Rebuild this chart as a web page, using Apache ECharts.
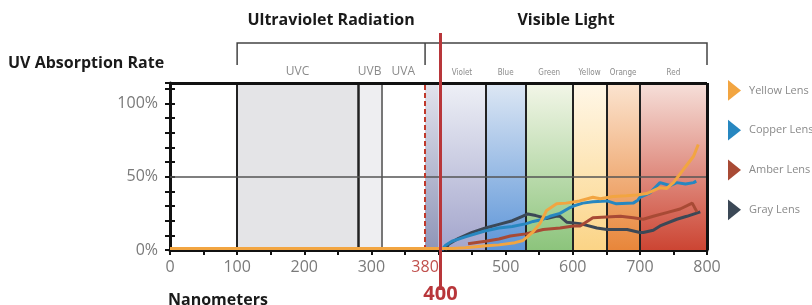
<!DOCTYPE html>
<html>
<head>
<meta charset="utf-8">
<script src="https://cdn.jsdelivr.net/npm/echarts@6/dist/echarts.min.js"></script>
<style>
  html, body { margin: 0; padding: 0; background: #fff; }
  #chart { width: 812px; height: 305px; }
</style>
</head>
<body>
<div id="chart"></div>
<script>
// wavelength in nm, absorption in %
var yellowLens = [[0,1],[400,1],[420,1],[440,1.5],[467,2.7],[490,3.5],[514,5],[526,6.5],[540,12],[551,18],[561,27],[576,31.5],[590,32],[610,33.5],[630,36],[641,35],[660,36.5],[680,37],[695,37.5],[710,38.5],[730,42.5],[740,42],[750,46],[760,52],[770,58],[780,64],[787,72]];
var copperLens = [[405,0],[410,3],[420,6],[440,9],[469,13],[490,15],[510,16],[531,18],[541,19.5],[556,21],[566,23],[581,25],[596,29],[601,30],[615,32],[630,33],[651,33.5],[665,31.5],[690,32],[697,34],[700,36],[715,39],[730,46],[745,44],[755,46],[768,45],[780,46],[784,47]];
var amberLens = [[444,4.3],[470,6],[490,7.5],[507,9.6],[530,11],[556,14],[581,15],[601,16.4],[611,16.4],[630,22],[650,22.5],[671,23],[690,22],[705,21],[720,23],[740,25.5],[760,28],[778,32],[785,26]];
var grayLens = [[410,0],[415,4],[430,8],[450,12],[470,15],[490,17.5],[510,20],[525,23],[533,24.6],[545,23.5],[561,21.5],[575,23],[581,23],[591,19],[611,18],[636,15],[651,14],[681,14],[700,12],[705,12],[720,13.5],[730,16.4],[755,21],[770,23],[790,26]];

var lensNames = ['Yellow Lens', 'Copper Lens', 'Amber Lens', 'Gray Lens'];
var lensColors = ['#f2a541', '#2787c0', '#a84a35', '#3b4856'];

// spectrum bands: [from, to, label]
var bandEdges = [[100,280,'UVC'],[280,315,'UVB'],[315,380,'UVA'],[380,400,''],[400,470,'Violet'],[470,530,'Blue'],[530,600,'Green'],[600,650,'Yellow'],[650,700,'Orange'],[700,800,'Red']];
var bandColors = [['#e4e4e7','#e4e4e7'],['#eeeef1','#eeeef1'],['#ffffff','#ffffff'],['#e2e3ec','#8f95b8'],['#eef0f6','#a3a5cc'],['#dde7f4','#5d95d8'],['#f3f6e8','#8cc47c'],['#fff7e8','#fbd486'],['#fbe4d0','#e8863a'],['#f6e0da','#cc4533']];
var dividers = [100, 280, 315, 470, 530, 600, 650, 700];
var xLabels = [0, 100, 200, 300, 500, 600, 700, 800];
var yLabels = [0, 50, 100];

var chart = echarts.init(document.getElementById('chart'));

var areas = bandEdges.map(function (b, i) {
  var small = i > 3;
  return [{
    xAxis: b[0],
    itemStyle: { color: { type: 'linear', x: 0, y: 0, x2: 0, y2: 1,
      colorStops: [{ offset: 0, color: bandColors[i][0] }, { offset: 1, color: bandColors[i][1] }] } },
    label: { show: b[2] !== '', formatter: b[2], position: 'top', distance: small ? 6 : 5,
      color: '#8a8a8a', fontSize: small ? 8 : 12, fontFamily: small ? 'Liberation Sans Narrow, DejaVu Sans Condensed' : 'Open Sans' }
  }, { xAxis: b[1] }];
});

function solid(color, width) { return { color: color, width: width, type: 'solid' }; }
var lines = dividers.map(function (d) {
  return [{ xAxis: d, yAxis: 0, lineStyle: solid(d === 315 ? '#777' : '#222', d === 280 ? 2.5 : 2) }, { xAxis: d, yAxis: 114 }];
});
lines.push([{ xAxis: 0, yAxis: 50, lineStyle: solid('#555', 1.5) }, { xAxis: 800, yAxis: 50 }]);
lines.push([{ xAxis: 0, yAxis: 114, lineStyle: solid('#111', 3) }, { xAxis: 800, yAxis: 114 }]);
lines.push([{ xAxis: 800, yAxis: 0, lineStyle: solid('#111', 3) }, { xAxis: 800, yAxis: 114 }]);
lines.push([{ xAxis: 380, yAxis: 0, lineStyle: { color: '#c0392b', width: 2, type: [5, 3] },
  label: { show: true, formatter: '380', position: 'start', distance: 9, color: '#c0504d', fontSize: 16, fontFamily: 'Open Sans' } },
  { xAxis: 380, yAxis: 114 }]);

var series = [
  { type: 'line', data: [], z: 1, silent: true,
    markArea: { silent: true, data: areas } },
  { type: 'line', data: [], z: 3, silent: true,
    markLine: { silent: true, symbol: 'none', animation: false, label: { show: false },
      lineStyle: { type: 'solid' }, data: lines } }
];
[yellowLens, copperLens, amberLens, grayLens].forEach(function (d, i) {
  series.push({
    name: lensNames[i], type: 'line', data: d, z: 5 + (3 - i), showSymbol: false,
    lineStyle: { color: lensColors[i], width: 3 }, itemStyle: { color: lensColors[i] }
  });
});

chart.setOption({
  animation: false,
  textStyle: { fontFamily: 'Open Sans' },
  grid: { left: 170, right: 105, top: 83, bottom: 55 },
  legend: {
    orient: 'vertical', left: 723, top: 75, itemGap: 19, itemWidth: 13, itemHeight: 22,
    icon: 'path://M0,0 L10,8 L0,16 Z',
    data: lensNames, selectedMode: false,
    textStyle: { color: '#8a8a8a', fontSize: 11, padding: [0, 0, 0, 3] }
  },
  xAxis: {
    type: 'value', min: 0, max: 800, interval: 50,
    axisLine: { lineStyle: { color: '#111', width: 3 } },
    axisTick: { show: true, length: 5, lineStyle: { color: '#111', width: 2 } },
    axisLabel: { margin: 9, color: '#7a7a7a', fontSize: 16,
      formatter: function (v) { return xLabels.indexOf(v) >= 0 ? String(v) : ''; } },
    splitLine: { show: false }
  },
  yAxis: [{
    type: 'value', min: 0, max: 114, interval: 10,
    axisLine: { show: true, lineStyle: { color: '#111', width: 3 } },
    axisTick: { show: true, length: 5, lineStyle: { color: '#111', width: 2 } },
    axisLabel: { margin: 12, color: '#7a7a7a', fontSize: 16,
      formatter: function (v) { return yLabels.indexOf(v) >= 0 ? v + '%' : ''; } },
    splitLine: { show: false }
  }, {
    type: 'value', min: 0, max: 114, interval: 10, position: 'left', offset: 0,
    axisLine: { show: false },
    axisTick: { show: true, inside: true, length: 5, lineStyle: { color: '#111', width: 2 } },
    axisLabel: { show: false }, splitLine: { show: false }
  }],
  series: series
});

// annotations above and below the plot, placed from the axis scale
function px(x, y) { return chart.convertToPixel({ gridIndex: 0 }, [x, y]); }
var x100 = px(100, 0)[0], x380 = px(380, 0)[0], x400 = px(400, 0)[0], x800 = px(800, 0)[0];
var bracketY = 43, bracketDrop = 65;
var brack = { stroke: '#444', lineWidth: 1.5 };
var boldFont = 'bold 16px "Open Sans"';
chart.setOption({
  graphic: [
    { type: 'polyline', shape: { points: [[x100, bracketDrop], [x100, bracketY], [x800, bracketY], [x800, bracketDrop]] }, style: brack, z: 10 },
    { type: 'line', shape: { x1: x380, y1: bracketY, x2: x380, y2: bracketDrop }, style: brack, z: 10 },
    { type: 'line', shape: { x1: x400 + 2, y1: 33, x2: x400 + 2, y2: 290 }, style: { stroke: '#b8363a', lineWidth: 3 }, z: 20 },
    { type: 'text', x: (x100 + x380) / 2, y: 20, style: { text: 'Ultraviolet Radiation', fill: '#1a1a1a', font: boldFont, textAlign: 'center', textVerticalAlign: 'middle' }, z: 10 },
    { type: 'text', x: px(590, 0)[0], y: 20, style: { text: 'Visible Light', fill: '#1a1a1a', font: boldFont, textAlign: 'center', textVerticalAlign: 'middle' }, z: 10 },
    { type: 'text', x: 8, y: 63, style: { text: 'UV Absorption Rate', fill: '#1a1a1a', font: boldFont, textAlign: 'left', textVerticalAlign: 'middle' }, z: 10 },
    { type: 'text', x: 168, y: 300, style: { text: 'Nanometers', fill: '#1a1a1a', font: boldFont, textAlign: 'left', textVerticalAlign: 'middle' }, z: 10 },
    { type: 'text', x: x400 + 2, y: 294, style: { text: '400', fill: '#b8363a', font: 'bold 20px "Open Sans"', textAlign: 'center', textVerticalAlign: 'middle' }, z: 10 }
  ]
});

window.onresize = function () { chart.resize(); };
</script>
</body>
</html>
